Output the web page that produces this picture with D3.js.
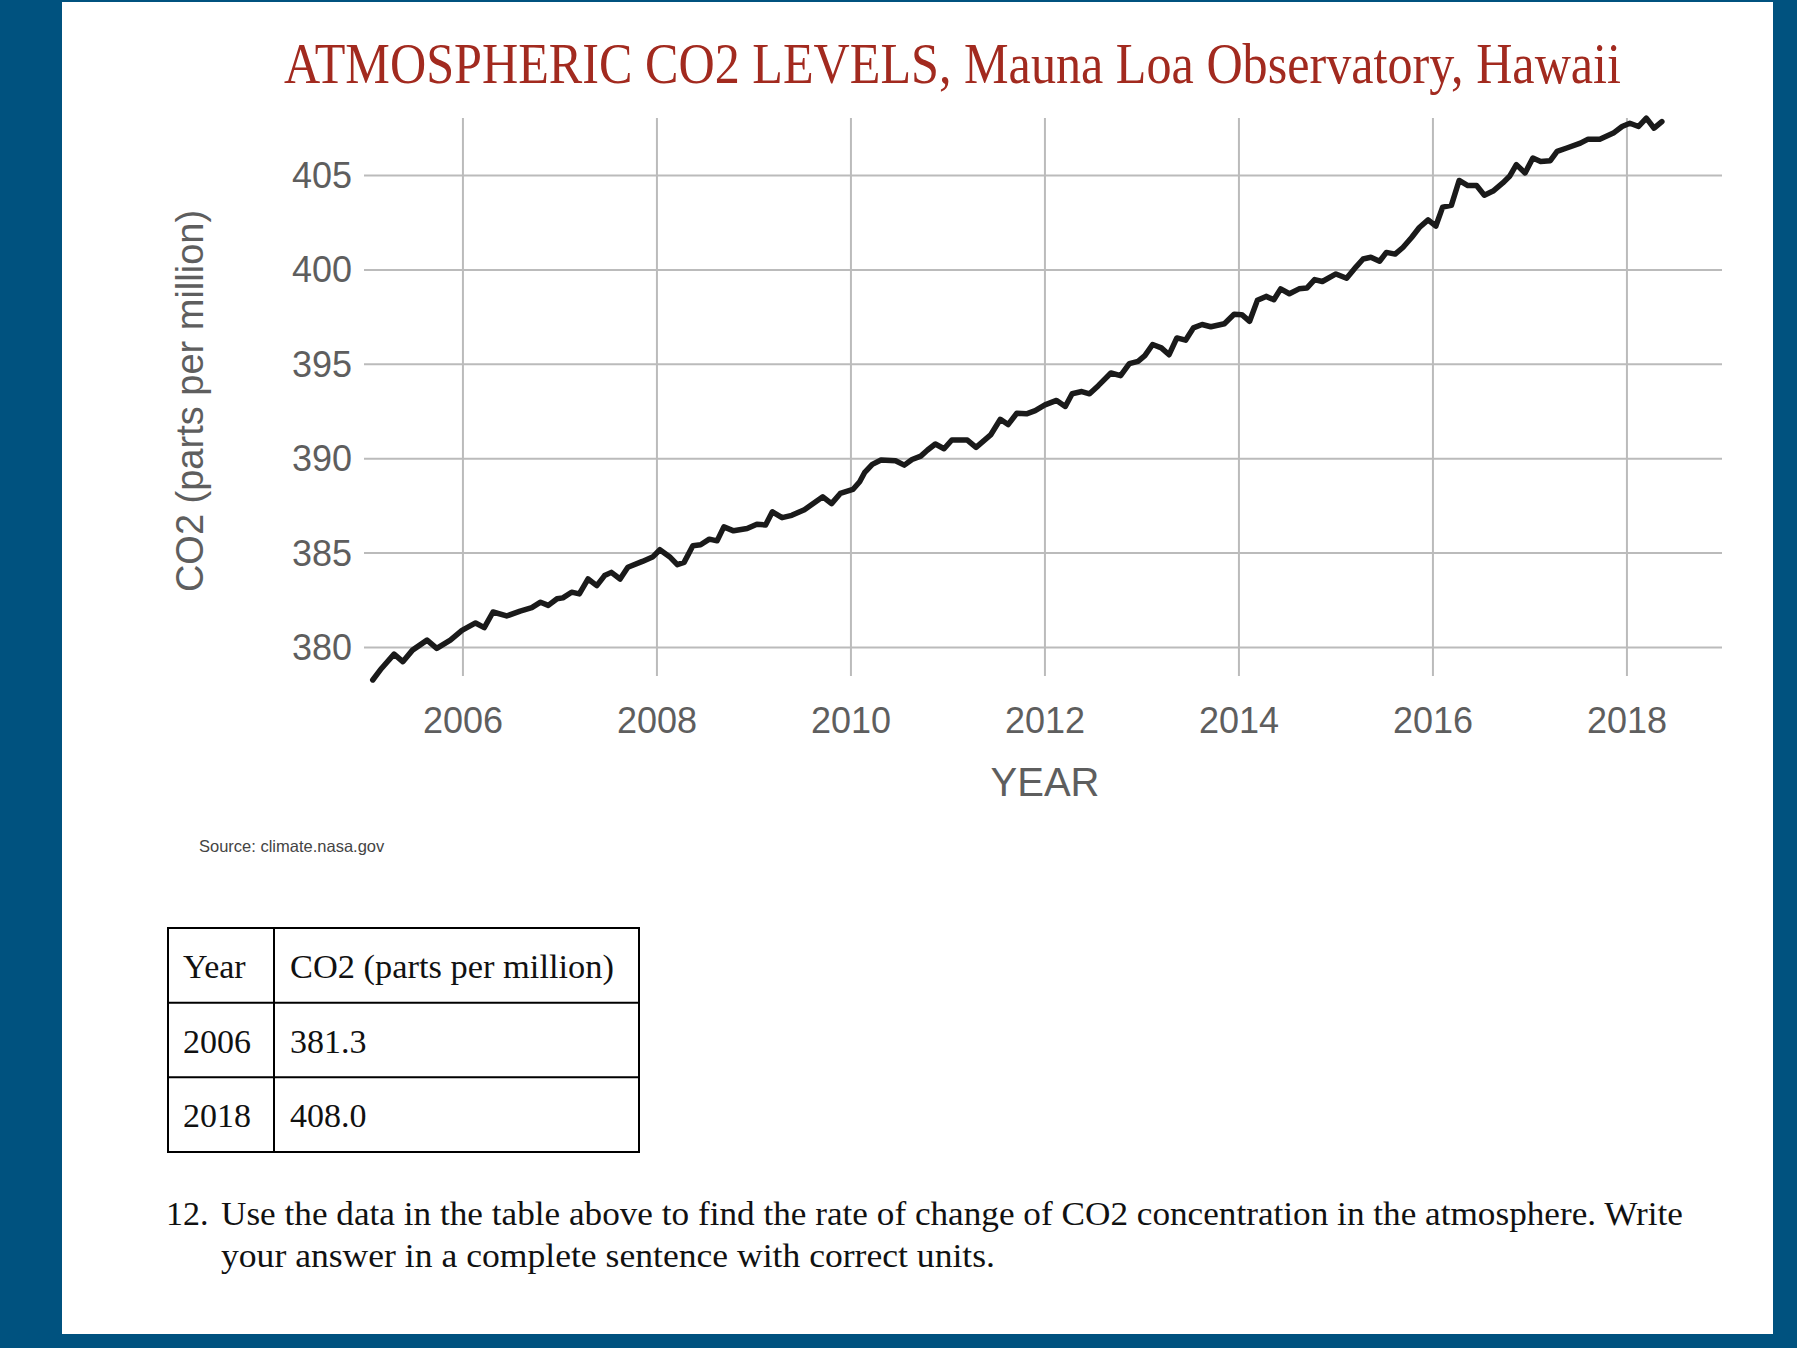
<!DOCTYPE html>
<html>
<head>
<meta charset="utf-8">
<script src="https://cdn.jsdelivr.net/npm/d3@7"></script>
<style>
  body { margin: 0; background: #00527f; }
  .tick-label { font-family: "Liberation Sans", Arial, sans-serif; fill: #5e5e5e; }
  .serif { font-family: "Liberation Serif", "Times New Roman", serif; fill: #111; }
</style>
</head>
<body>
<div id="chart"></div>
<script>
// monthly-ish CO2 readings
var years = [2005.07, 2005.16, 2005.29, 2005.38, 2005.48, 2005.63, 2005.73, 2005.87, 2005.99,
  2006.13, 2006.22, 2006.31, 2006.45, 2006.59, 2006.71, 2006.80, 2006.88, 2006.97,
  2007.03, 2007.12, 2007.20, 2007.29, 2007.38, 2007.46, 2007.53, 2007.62, 2007.70, 2007.85, 2007.96,
  2008.03, 2008.13, 2008.21, 2008.28, 2008.37, 2008.45, 2008.54, 2008.62, 2008.69, 2008.79, 2008.93,
  2009.03, 2009.12, 2009.19, 2009.29, 2009.39, 2009.52, 2009.71, 2009.80, 2009.89,
  2010.02, 2010.09, 2010.14, 2010.22, 2010.31, 2010.46, 2010.55, 2010.63, 2010.72, 2010.79, 2010.87, 2010.96,
  2011.04, 2011.20, 2011.29, 2011.44, 2011.54, 2011.62, 2011.71, 2011.81, 2011.90,
  2012.00, 2012.12, 2012.21, 2012.28, 2012.38, 2012.46, 2012.55, 2012.68, 2012.78, 2012.87, 2012.96,
  2013.03, 2013.11, 2013.20, 2013.28, 2013.36, 2013.45, 2013.53, 2013.62, 2013.71, 2013.85, 2013.95,
  2014.03, 2014.11, 2014.19, 2014.28, 2014.36, 2014.43, 2014.52, 2014.62, 2014.70, 2014.78, 2014.86,
  2015.00, 2015.11, 2015.21, 2015.28, 2015.36, 2015.45, 2015.52, 2015.61, 2015.69, 2015.78, 2015.86, 2015.95,
  2016.03, 2016.10, 2016.19, 2016.27, 2016.36, 2016.45, 2016.53, 2016.62, 2016.72, 2016.79, 2016.86, 2016.95,
  2017.03, 2017.11, 2017.21, 2017.28, 2017.38, 2017.52, 2017.60, 2017.72, 2017.86, 2017.95,
  2018.03, 2018.12, 2018.20, 2018.28, 2018.36]

var ppm = [378.28, 378.89, 379.65, 379.25, 379.86, 380.39, 379.95, 380.39, 380.91,
  381.30, 381.05, 381.88, 381.67, 381.93, 382.11, 382.40, 382.23, 382.58,
  382.63, 382.93, 382.84, 383.63, 383.28, 383.81, 383.98, 383.63, 384.25, 384.56, 384.81,
  385.18, 384.81, 384.39, 384.51, 385.39, 385.44, 385.74, 385.65, 386.39, 386.18, 386.30,
  386.53, 386.49, 387.19, 386.88, 387.00, 387.30, 387.98, 387.62, 388.16,
  388.37, 388.78, 389.26, 389.70, 389.93, 389.89, 389.66, 389.96, 390.14, 390.46, 390.78, 390.53,
  390.99, 390.99, 390.60, 391.26, 392.09, 391.81, 392.41, 392.38, 392.55,
  392.85, 393.09, 392.77, 393.44, 393.56, 393.44, 393.87, 394.54, 394.40, 395.04, 395.16,
  395.46, 396.05, 395.87, 395.51, 396.40, 396.28, 396.93, 397.11, 396.99, 397.15, 397.65,
  397.63, 397.28, 398.39, 398.60, 398.42, 399.00, 398.74, 399.00, 399.04, 399.49, 399.39,
  399.79, 399.56, 400.18, 400.58, 400.67, 400.46, 400.93, 400.84, 401.19, 401.72, 402.25, 402.65,
  402.33, 403.33, 403.42, 404.74, 404.47, 404.47, 403.96, 404.18, 404.61, 404.96, 405.58, 405.14,
  405.93, 405.75, 405.79, 406.28, 406.46, 406.72, 406.93, 406.93, 407.25, 407.60,
  407.77, 407.60, 408.04, 407.51, 407.86]

var xTicks = [2006, 2008, 2010, 2012, 2014, 2016, 2018]
var yTicks = [380, 385, 390, 395, 400, 405]

var tableHeader = ['Year', 'CO2 (parts per million)']
var tableYears = ['2006', '2018']
var tableValues = ['381.3', '408.0']

var titleText = 'ATMOSPHERIC CO2 LEVELS, Mauna Loa Observatory, Hawaii'
var questionLines = [
  'Use the data in the table above to find the rate of change of CO2 concentration in the atmosphere.  Write',
  'your answer in a complete sentence with correct units.'
]

;(function () {

  var width = 1797,
      height = 1348

  var svg = d3.select('#chart').append('svg')
    .attr('width', width)
    .attr('height', height)
    .style('display', 'block')

  // white page on the blue background
  svg.append('rect')
    .attr('x', 62)
    .attr('y', 2)
    .attr('width', 1711)
    .attr('height', 1332)
    .attr('fill', '#ffffff')

  svg.append('text')
    .attr('x', 284)
    .attr('y', 83)
    .attr('textLength', 1337)
    .attr('lengthAdjust', 'spacingAndGlyphs')
    .style('font-family', '"Liberation Serif", serif')
    .style('font-size', '56px')
    .attr('fill', '#a22a1f')
    .text(titleText)

  var xPositionScale = d3.scaleLinear()
    .domain([2004.98, 2018.98])
    .range([364, 1722])

  var yPositionScale = d3.scaleLinear()
    .domain([378.49, 408.05])
    .range([676, 118])

  // gridlines
  svg.append('g')
    .selectAll('line')
    .data(yTicks)
    .enter().append('line')
    .attr('x1', xPositionScale.range()[0])
    .attr('x2', xPositionScale.range()[1])
    .attr('y1', function (d) { return yPositionScale(d) })
    .attr('y2', function (d) { return yPositionScale(d) })
    .attr('stroke', '#bbbbbb')
    .attr('stroke-width', 2)

  svg.append('g')
    .selectAll('line')
    .data(xTicks)
    .enter().append('line')
    .attr('x1', function (d) { return xPositionScale(d) })
    .attr('x2', function (d) { return xPositionScale(d) })
    .attr('y1', yPositionScale.range()[0])
    .attr('y2', yPositionScale.range()[1])
    .attr('stroke', '#bbbbbb')
    .attr('stroke-width', 2)

  // tick labels
  svg.append('g')
    .selectAll('text')
    .data(yTicks)
    .enter().append('text')
    .attr('class', 'tick-label')
    .attr('x', 352)
    .attr('y', function (d) { return yPositionScale(d) + 12.5 })
    .attr('text-anchor', 'end')
    .style('font-size', '36px')
    .text(function (d) { return d })

  svg.append('g')
    .selectAll('text')
    .data(xTicks)
    .enter().append('text')
    .attr('class', 'tick-label')
    .attr('x', function (d) { return xPositionScale(d) })
    .attr('y', 733)
    .attr('text-anchor', 'middle')
    .style('font-size', '36px')
    .text(function (d) { return d })

  svg.append('text')
    .attr('class', 'tick-label')
    .attr('x', 1045)
    .attr('y', 796)
    .attr('text-anchor', 'middle')
    .style('font-size', '40px')
    .text('YEAR')

  svg.append('text')
    .attr('class', 'tick-label')
    .attr('transform', 'translate(203,401) rotate(-90)')
    .attr('text-anchor', 'middle')
    .style('font-size', '38px')
    .text('CO2 (parts per million)')

  // the CO2 line
  var line = d3.line()
    .x(function (d) { return xPositionScale(d.year) })
    .y(function (d) { return yPositionScale(d.ppm) })

  var datapoints = years.map(function (y, i) {
    return { year: y, ppm: ppm[i] }
  })

  svg.append('path')
    .datum(datapoints)
    .attr('d', line)
    .attr('fill', 'none')
    .attr('stroke', '#1a1a1a')
    .attr('stroke-width', 5.5)
    .attr('stroke-linejoin', 'round')
    .attr('stroke-linecap', 'round')

  svg.append('text')
    .attr('x', 199)
    .attr('y', 852)
    .style('font-family', '"Liberation Sans", Arial, sans-serif')
    .style('font-size', '16.5px')
    .attr('fill', '#444')
    .text('Source: climate.nasa.gov')

  // table
  var rows = [tableHeader].concat(tableYears.map(function (y, i) {
    return [y, tableValues[i]]
  }))

  var rowScale = d3.scaleBand()
    .domain(d3.range(rows.length))
    .range([928, 1152])

  var colX = [168, 274, 639]

  var table = svg.append('g')

  table.append('rect')
    .attr('x', colX[0])
    .attr('y', rowScale.range()[0])
    .attr('width', colX[2] - colX[0])
    .attr('height', rowScale.range()[1] - rowScale.range()[0])
    .attr('fill', 'none')
    .attr('stroke', '#000')
    .attr('stroke-width', 2)

  table.append('line')
    .attr('x1', colX[1])
    .attr('x2', colX[1])
    .attr('y1', rowScale.range()[0])
    .attr('y2', rowScale.range()[1])
    .attr('stroke', '#000')
    .attr('stroke-width', 2)

  table.selectAll('.row-line')
    .data(d3.range(1, rows.length))
    .enter().append('line')
    .attr('class', 'row-line')
    .attr('x1', colX[0])
    .attr('x2', colX[2])
    .attr('y1', function (d) { return rowScale(d) })
    .attr('y2', function (d) { return rowScale(d) })
    .attr('stroke', '#000')
    .attr('stroke-width', 2)

  rows.forEach(function (row, i) {
    table.append('text')
      .attr('class', 'serif')
      .attr('x', colX[0] + 15)
      .attr('y', rowScale(i) + 50)
      .style('font-size', '34px')
      .text(row[0])
    var cell = table.append('text')
      .attr('class', 'serif')
      .attr('x', colX[1] + 16)
      .attr('y', rowScale(i) + 50)
      .style('font-size', '34px')
      .text(row[1])
    if (i === 0) {
      cell.attr('textLength', 324)
        .attr('lengthAdjust', 'spacingAndGlyphs')
    }
  })

  // question
  svg.append('text')
    .attr('class', 'serif')
    .attr('x', 166)
    .attr('y', 1225)
    .style('font-size', '34px')
    .text('12.')

  svg.selectAll('.question')
    .data(questionLines)
    .enter().append('text')
    .attr('class', 'serif question')
    .attr('x', 221)
    .attr('y', function (d, i) { return 1225 + i * 42 })
    .attr('textLength', function (d, i) { return i === 0 ? 1462 : 774 })
    .attr('lengthAdjust', 'spacingAndGlyphs')
    .style('font-size', '34px')
    .text(function (d) { return d })

})()
</script>
</body>
</html>
